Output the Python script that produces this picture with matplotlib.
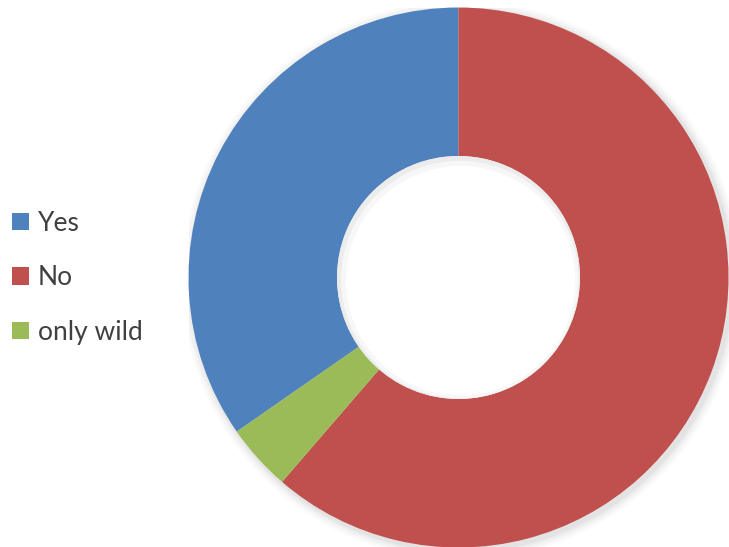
import matplotlib
matplotlib.use('Agg')
import matplotlib.pyplot as plt

plt.rcParams['font.family'] = ['Lato', 'DejaVu Sans']

labels = ['Yes', 'No', 'only wild']
counts = [26, 46, 3]
colors = ['#4F81BD', '#C0504D', '#9BBB59']

W, H = 729, 547
fig = plt.figure(figsize=(W / 100, H / 100), dpi=100)

# donut centre (458.5, 277.5) px, outer radius 270 px
cx, cy, r = 458.5, 277.5, 270
ax = fig.add_axes([(cx - r) / W, (H - cy - r) / H, 2 * r / W, 2 * r / H])

# first slice ends at 12 o'clock, slices run clockwise
start = 90 + 360 * counts[0] / sum(counts)

# soft shadow around the ring
for k, a in zip([1.035, 1.025, 1.015, 1.008], [0.04, 0.05, 0.06, 0.08]):
    ax.add_patch(plt.Circle((0.01, -0.01), k, color='#808080', alpha=a, lw=0))

wedges, _ = ax.pie(counts, colors=colors, startangle=start, counterclock=False,
                   radius=1, wedgeprops=dict(width=0.55, linewidth=0))

# hole with a faint inner shade
ax.add_patch(plt.Circle((0, 0), 0.45, color='#ececec', lw=0, zorder=5))
ax.add_patch(plt.Circle((0.005, -0.008), 0.44, color='#f7f7f7', lw=0, zorder=6))
ax.add_patch(plt.Circle((0.008, -0.012), 0.425, color='white', lw=0, zorder=7))

ax.set_xlim(-1, 1)
ax.set_ylim(-1, 1)
ax.set_aspect('equal')
ax.axis('off')

leg = fig.legend(wedges, labels, loc='center left', bbox_to_anchor=(0.016, 0.492),
                 frameon=False, fontsize=19, handlelength=0.65, handleheight=0.65,
                 handletextpad=0.35, labelspacing=1.12, borderpad=0,
                 borderaxespad=0)
for t in leg.get_texts():
    t.set_color('#404040')

plt.savefig('out.png', dpi=100)
